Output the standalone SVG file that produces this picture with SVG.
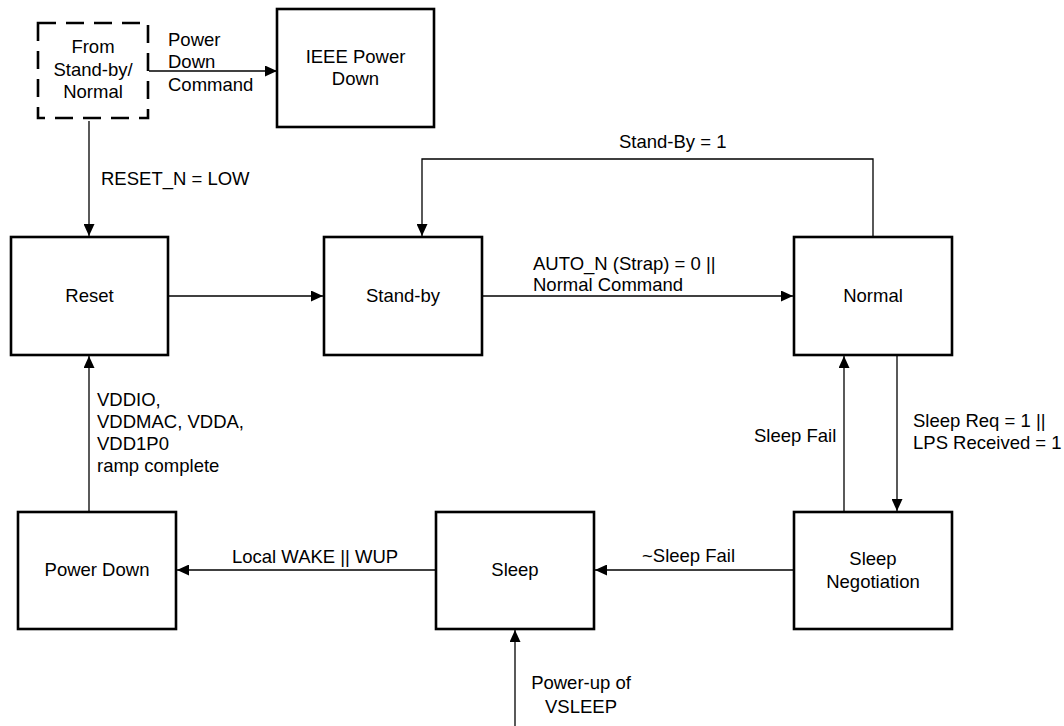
<svg xmlns="http://www.w3.org/2000/svg" width="1064" height="726" viewBox="0 0 1064 726">
<style>
.box{fill:#fff;stroke:#000;stroke-width:2.6}
.dash{fill:#fff;stroke:#000;stroke-width:2.6;stroke-dasharray:18 10}
.t{font-family:"Liberation Sans",Arial,sans-serif;font-size:18.5px;fill:#000}
.c{text-anchor:middle}
.ln{fill:none;stroke:#000;stroke-width:1.3}
</style>
<defs>
<marker id="ah" markerUnits="userSpaceOnUse" markerWidth="12" markerHeight="11" refX="12" refY="5.5" orient="auto">
<path d="M0,0 L12,5.5 L0,11 z" fill="#000"/>
</marker>
</defs>
<rect width="1064" height="726" fill="#fff"/>
<g id="connectors">
<line class="ln" x1="149" y1="71" x2="277" y2="71" marker-end="url(#ah)"/>
<line class="ln" x1="89" y1="121" x2="89" y2="236" marker-end="url(#ah)"/>
<line class="ln" x1="169" y1="296" x2="323" y2="296" marker-end="url(#ah)"/>
<line class="ln" x1="483" y1="296" x2="793" y2="296" marker-end="url(#ah)"/>
<polyline class="ln" points="873,236 873,159 422,159 422,236" marker-end="url(#ah)"/>
<line class="ln" x1="897" y1="356" x2="897" y2="511" marker-end="url(#ah)"/>
<line class="ln" x1="844" y1="511" x2="844" y2="356" marker-end="url(#ah)"/>
<line class="ln" x1="793" y1="570" x2="595" y2="570" marker-end="url(#ah)"/>
<line class="ln" x1="436" y1="570" x2="177" y2="570" marker-end="url(#ah)"/>
<line class="ln" x1="89" y1="511" x2="89" y2="356" marker-end="url(#ah)"/>
<line class="ln" x1="515" y1="726" x2="515" y2="630" marker-end="url(#ah)"/>
<text class="t" x="168" y="46">Power</text>
<text class="t" x="168" y="68">Down</text>
<text class="t" x="168" y="91">Command</text>
<text class="t" x="101" y="185">RESET_N = LOW</text>
<text class="t" x="619" y="148">Stand-By = 1</text>
<text class="t" x="533" y="270">AUTO_N (Strap) = 0 ||</text>
<text class="t" x="533" y="291">Normal Command</text>
<text class="t" x="97" y="406">VDDIO,</text>
<text class="t" x="97" y="428">VDDMAC, VDDA,</text>
<text class="t" x="97" y="450">VDD1P0</text>
<text class="t" x="97" y="472">ramp complete</text>
<text class="t" x="754" y="442">Sleep Fail</text>
<text class="t" x="913" y="427">Sleep Req = 1 ||</text>
<text class="t" x="913" y="449">LPS Received = 1</text>
<text class="t" x="232" y="563">Local WAKE || WUP</text>
<text class="t" x="642" y="562">~Sleep Fail</text>
<text class="t c" x="581" y="689">Power-up of</text>
<text class="t c" x="581" y="713">VSLEEP</text>
</g>
<g id="from">
<rect class="dash" x="38" y="23" width="110" height="95"/>
<text class="t c" x="93" y="53">From</text>
<text class="t c" x="93" y="76">Stand-by/</text>
<text class="t c" x="93" y="98">Normal</text>
</g>
<g id="ieee">
<rect class="box" x="277" y="9" width="157" height="118"/>
<text class="t c" x="355.5" y="63">IEEE Power</text>
<text class="t c" x="355.5" y="85">Down</text>
</g>
<g id="reset">
<rect class="box" x="11" y="237" width="157" height="118"/>
<text class="t c" x="89.5" y="302">Reset</text>
</g>
<g id="standby">
<rect class="box" x="324" y="237" width="158" height="118"/>
<text class="t c" x="403" y="302">Stand-by</text>
</g>
<g id="normal">
<rect class="box" x="794" y="237" width="158" height="118"/>
<text class="t c" x="873" y="302">Normal</text>
</g>
<g id="powerdown">
<rect class="box" x="18" y="512" width="158" height="117"/>
<text class="t c" x="97" y="576">Power Down</text>
</g>
<g id="sleep">
<rect class="box" x="436" y="512" width="158" height="117"/>
<text class="t c" x="515" y="576">Sleep</text>
</g>
<g id="sleepneg">
<rect class="box" x="794" y="512" width="158" height="117"/>
<text class="t c" x="873" y="565">Sleep</text>
<text class="t c" x="873" y="588">Negotiation</text>
</g>
</svg>
